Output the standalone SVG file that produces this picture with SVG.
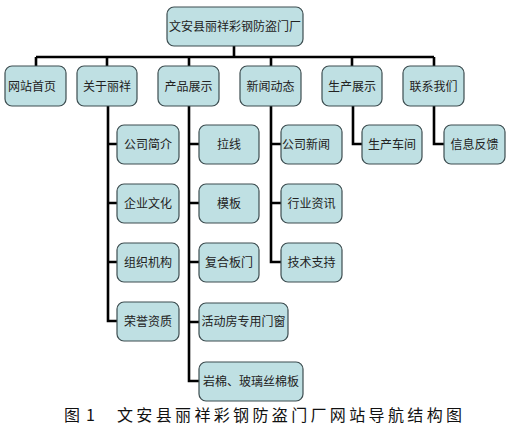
<svg xmlns="http://www.w3.org/2000/svg" width="511" height="430" viewBox="0 0 511 430">
<style>
.b{fill:#bfe0e3;stroke:#3d4d50;stroke-width:1.2}
.t{font-family:"Noto Sans CJK SC","Liberation Sans",sans-serif;font-size:12px;fill:#222}
.c{fill:none;stroke:#000;stroke-width:2.6}
.cap{font-family:"Noto Sans CJK SC","Liberation Sans",sans-serif;font-size:16px;fill:#111}
</style>
<rect width="511" height="430" fill="#fff"/>
<g id="connectors" class="c">
<path d="M234 46V57M36 57H434M36 57V66M107 57V66M189 57V66M271 57V66M352 57V66M434 57V66"/>
<path d="M108 106V321H117M108 144H117M108 203H117M108 262H117"/>
<path d="M189 106V381H199M189 144H199M189 203H199M189 262H199M189 322H199"/>
<path d="M271 106V262H281M271 144H281M271 203H281"/>
<path d="M353 106V144H362"/>
<path d="M434 106V144H444"/>
</g>
<g id="root"><rect class="b" x="167" y="7" width="136" height="39" rx="7"/><text class="t" x="235" y="31" text-anchor="middle" textLength="132" lengthAdjust="spacing">文安县丽祥彩钢防盗门厂</text></g>
<g id="n1"><rect class="b" x="5" y="66" width="61" height="40" rx="7"/><text class="t" x="32" y="91" text-anchor="middle">网站首页</text></g>
<g id="n2"><rect class="b" x="77" y="66" width="60" height="40" rx="7"/><text class="t" x="107" y="91" text-anchor="middle">关于丽祥</text></g>
<g id="n3"><rect class="b" x="158" y="66" width="61" height="40" rx="7"/><text class="t" x="188.5" y="91" text-anchor="middle">产品展示</text></g>
<g id="n4"><rect class="b" x="240" y="66" width="61" height="40" rx="7"/><text class="t" x="270.5" y="91" text-anchor="middle">新闻动态</text></g>
<g id="n5"><rect class="b" x="322" y="66" width="60" height="40" rx="7"/><text class="t" x="352" y="91" text-anchor="middle">生产展示</text></g>
<g id="n6"><rect class="b" x="403" y="66" width="61" height="40" rx="7"/><text class="t" x="433.5" y="91" text-anchor="middle">联系我们</text></g>
<g id="n2a"><rect class="b" x="117" y="125" width="62" height="39" rx="7"/><text class="t" x="148" y="149" text-anchor="middle">公司简介</text></g>
<g id="n2b"><rect class="b" x="117" y="184" width="62" height="39" rx="7"/><text class="t" x="148" y="208" text-anchor="middle">企业文化</text></g>
<g id="n2c"><rect class="b" x="117" y="243" width="62" height="39" rx="7"/><text class="t" x="148" y="267" text-anchor="middle">组织机构</text></g>
<g id="n2d"><rect class="b" x="117" y="302" width="62" height="39" rx="7"/><text class="t" x="148" y="326" text-anchor="middle">荣誉资质</text></g>
<g id="n3a"><rect class="b" x="199" y="125" width="60" height="39" rx="7"/><text class="t" x="229" y="149" text-anchor="middle">拉线</text></g>
<g id="n3b"><rect class="b" x="199" y="184" width="60" height="39" rx="7"/><text class="t" x="229" y="208" text-anchor="middle">模板</text></g>
<g id="n3c"><rect class="b" x="199" y="243" width="60" height="39" rx="7"/><text class="t" x="229" y="267" text-anchor="middle">复合板门</text></g>
<g id="n3d"><rect class="b" x="199" y="303" width="89" height="38" rx="7"/><text class="t" x="243.5" y="326" text-anchor="middle">活动房专用门窗</text></g>
<g id="n3e"><rect class="b" x="199" y="362" width="104" height="39" rx="7"/><text class="t" x="251" y="386" text-anchor="middle">岩棉、玻璃丝棉板</text></g>
<g id="n4a"><rect class="b" x="281" y="125" width="61" height="39" rx="7"/><text class="t" x="306" y="149" text-anchor="middle">公司新闻</text></g>
<g id="n4b"><rect class="b" x="281" y="184" width="61" height="39" rx="7"/><text class="t" x="311.5" y="208" text-anchor="middle">行业资讯</text></g>
<g id="n4c"><rect class="b" x="281" y="243" width="61" height="39" rx="7"/><text class="t" x="311.5" y="267" text-anchor="middle">技术支持</text></g>
<g id="n5a"><rect class="b" x="362" y="125" width="60" height="39" rx="7"/><text class="t" x="392" y="149" text-anchor="middle">生产车间</text></g>
<g id="n6a"><rect class="b" x="444" y="125" width="61" height="39" rx="7"/><text class="t" x="474.5" y="149" text-anchor="middle">信息反馈</text></g>
<g id="caption"><text class="cap" x="64" y="421">图</text><text class="cap" x="86" y="421">1</text><text class="cap" x="117" y="421" textLength="345" lengthAdjust="spacing">文安县丽祥彩钢防盗门厂网站导航结构图</text></g>
</svg>
